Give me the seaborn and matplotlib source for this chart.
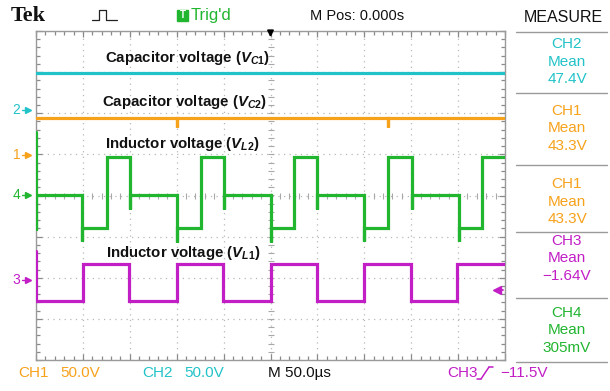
import numpy as np
import pandas as pd
import matplotlib
matplotlib.use("Agg")
import matplotlib.pyplot as plt
import seaborn as sns
from matplotlib.lines import Line2D
from matplotlib.patches import Rectangle
from matplotlib.transforms import blended_transform_factory

# ---------------- data (time in µs, 50 µs/div; level in divisions from centre)
t_start, t_end = -250, 250

cyan_level = 2.99          # CH2 - capacitor voltage Vc1
orange_level = 1.88        # CH1 - capacitor voltage Vc2
orange_glitch_t = [-100, 125]
orange_glitch_peak = [1.66, 1.66]

green_edges = [-201, -174, -150, -100, -74, -50, 0, 25, 50, 100, 125, 151, 201, 226]
green_levels = [0.02, -0.78, 0.93, 0.02, -0.78, 0.93, 0.02, -0.78, 0.93,
                0.02, -0.78, 0.93, 0.02, -0.78, 0.93]
green_peaks = [-1.10, 0.93, -0.33, -1.12, 0.93, -0.33, -1.12, 0.93, -0.33,
               -1.10, 0.93, -0.33, -1.10, 0.93]
green_start_span = [1.55, -0.85]

magenta_edges = [-200, -151, -100, -51, 0, 50, 100, 150, 199]
magenta_levels = [-2.56, -1.66, -2.56, -1.66, -2.56, -1.66, -2.56, -1.66, -2.56, -1.66]
magenta_start_span = [-1.35, -2.56]

channel_markers = ["2", "1", "4", "3"]
channel_marker_levels = [2.08, 0.99, 0.02, -2.06]

measure_channels = ["CH2", "CH1", "CH1", "CH3", "CH4"]
measure_values = ["47.4V", "43.3V", "43.3V", "\u22121.64V", "305mV"]

labels = [r"Capacitor voltage ($V_{C1}$)", r"Capacitor voltage ($V_{C2}$)",
          r"Inductor voltage ($V_{L2}$)", r"Inductor voltage ($V_{L1}$)"]
label_t = [-88, -92, -94, -93]
label_v = [3.35, 2.28, 1.26, -1.41]

# ---------------- colours
C_CYAN = "#22c3c8"
C_ORANGE = "#f7a21b"
C_GREEN = "#22b530"
C_MAG = "#c21ec6"

sns.set_style("white")
plt.rcParams["font.family"] = ["Liberation Sans", "DejaVu Sans"]
plt.rcParams["mathtext.fontset"] = "custom"
plt.rcParams["mathtext.it"] = "Liberation Sans:italic:bold"
plt.rcParams["mathtext.rm"] = "Liberation Sans:bold"


def step_series(edges, levels, peaks, name, start=None):
    t, v = [], []
    if start is not None:
        t += [t_start, t_start]
        v += list(start)
    t.append(t_start)
    v.append(levels[0])
    for i, e in enumerate(edges):
        t += [e, e, e]
        v += [levels[i], peaks[i], levels[i + 1]]
    t.append(t_end)
    v.append(levels[-1])
    return pd.DataFrame({"t": t, "v": v, "ch": name})


df = pd.concat([
    step_series([], [cyan_level], [], "CH2"),
    step_series(orange_glitch_t, [orange_level] * 3, orange_glitch_peak, "CH1"),
    step_series(green_edges, green_levels, green_peaks, "CH4", green_start_span),
    step_series(magenta_edges, magenta_levels, magenta_levels[:-1], "CH3", magenta_start_span),
], ignore_index=True)

W, H = 610, 391
fig = plt.figure(figsize=(W / 100, H / 100), dpi=100)
ax = fig.add_axes([36 / W, 31 / H, 469 / W, 329 / H])

palette = {"CH2": C_CYAN, "CH1": C_ORANGE, "CH4": C_GREEN, "CH3": C_MAG}
sns.lineplot(data=df, x="t", y="v", hue="ch", palette=palette, sort=False,
             estimator=None, legend=False, ax=ax, linewidth=2.3, zorder=3)
for ln in ax.lines:
    ln.set_solid_joinstyle("miter")
# orange has thinner glitches
ax.set_xlim(t_start, t_end)
ax.set_ylim(-4, 4)
ax.set_xticks(np.arange(-250, 251, 50))
ax.set_xticks(np.arange(-250, 251, 10), minor=True)
ax.set_yticks(np.arange(-4, 4.01, 1))
ax.set_yticks(np.arange(-4, 4.01, 0.2), minor=True)
ax.tick_params(which="both", direction="in", top=True, right=True, bottom=True, left=True,
               labelbottom=False, labelleft=False, color="#8a8a8a", width=0.9)
ax.tick_params(which="major", length=4)
ax.tick_params(which="minor", length=3)
ax.set_xlabel("")
ax.set_ylabel("")
ax.grid(True, which="major", color="#b8b8b8", linestyle=(0, (1, 3.5)), linewidth=0.9)
for sp in ax.spines.values():
    sp.set_color("#9a9a9a")
    sp.set_linewidth(1.0)

# centre cross ticks
xt = np.arange(-250, 251, 10)
ax.plot(xt, np.zeros_like(xt), linestyle="none", marker="|", ms=4, color="#a8a8a8", mew=0.8, zorder=1)
yt = np.arange(-4, 4.01, 0.2)
ax.plot(np.zeros_like(yt), yt, linestyle="none", marker="_", ms=4, color="#a8a8a8", mew=0.8, zorder=1)

# trace labels
for s, tx, ty in zip(labels, label_t, label_v):
    ax.text(tx, ty, s, ha="center", va="center", fontsize=10.8, fontweight="bold", color="#111111", zorder=5)

# channel ground markers (left)
bt = blended_transform_factory(ax.transAxes, ax.transData)
mcols = {"2": C_CYAN, "1": C_ORANGE, "4": C_GREEN, "3": C_MAG}
for c, lv in zip(channel_markers, channel_marker_levels):
    ax.text(-0.033, lv, c, transform=bt, ha="right", va="center", fontsize=10, color=mcols[c], clip_on=False)
    ax.plot([-0.016], [lv], transform=bt, marker=">", ms=4.5, color=mcols[c], clip_on=False, linestyle="none")
    ax.plot([-0.03, -0.016], [lv, lv], transform=bt, color=mcols[c], lw=1, clip_on=False)

# trigger level marker (right)
ax.plot([0.984], [-2.30], transform=bt, marker="<", ms=6, color=C_MAG, linestyle="none", zorder=6)
ax.plot([0.984, 0.995], [-2.30, -2.30], transform=bt, color=C_MAG, lw=1.3, zorder=6)

# trigger position arrow (top)
ax.annotate("", xy=(0, 3.78), xytext=(0, 4.02), xycoords="data",
            arrowprops=dict(arrowstyle="-|>", color="black", lw=1.3, mutation_scale=9), annotation_clip=False)

# ---------------- header
def fx(x):
    return x / W


def fy(y):
    return 1 - y / H


fig.text(fx(11), fy(16), "Tek", fontsize=16, fontweight="bold", family=["Liberation Serif", "DejaVu Serif"],
         va="center", ha="left", color="#111111")
fig.add_artist(Line2D([fx(92), fx(99), fx(99), fx(106), fx(106), fx(117)],
                      [fy(20), fy(20), fy(10), fy(10), fy(20), fy(20)], color="#222222", lw=0.9))
fig.add_artist(Rectangle((fx(177), fy(21)), 11 / W, 11 / H, color=C_GREEN, transform=fig.transFigure))
fig.text(fx(182.5), fy(15.5), "T", fontsize=7, color="white", fontweight="bold", ha="center", va="center")
fig.text(fx(191), fy(15.5), "Trig'd", fontsize=12, color=C_GREEN, ha="left", va="center")
fig.text(fx(310), fy(15.5), "M Pos: 0.000s", fontsize=10.5, color="#111111", ha="left", va="center")
fig.text(fx(563), fy(17), "MEASURE", fontsize=11.5, color="#111111", ha="center", va="center")

# ---------------- measurement panel
mcol = {"CH2": C_CYAN, "CH1": C_ORANGE, "CH3": C_MAG, "CH4": C_GREEN}
sep_y = [32, 93, 165, 232, 298, 362]
for y in sep_y:
    fig.add_artist(Line2D([fx(516), fx(607)], [fy(y), fy(y)], color="#9a9a9a", lw=1.0))
block_top = [44, 111, 184, 241, 313]
for ch, val, y0 in zip(measure_channels, measure_values, block_top):
    col = mcol[ch]
    fig.text(fx(567), fy(y0), ch, fontsize=11, color=col, ha="center", va="center")
    fig.text(fx(567), fy(y0 + 17.5), "Mean", fontsize=11, color=col, ha="center", va="center")
    fig.text(fx(567), fy(y0 + 35), val, fontsize=11, color=col, ha="center", va="center")

# ---------------- footer
fig.text(fx(18), fy(373), "CH1", fontsize=11, color=C_ORANGE, ha="left", va="center")
fig.text(fx(60), fy(373), "50.0V", fontsize=11, color=C_ORANGE, ha="left", va="center")
fig.text(fx(142), fy(373), "CH2", fontsize=11, color=C_CYAN, ha="left", va="center")
fig.text(fx(184), fy(373), "50.0V", fontsize=11, color=C_CYAN, ha="left", va="center")
fig.text(fx(268), fy(373), "M 50.0\u00b5s", fontsize=11, color="#111111", ha="left", va="center")
fig.text(fx(447), fy(373), "CH3", fontsize=11, color=C_MAG, ha="left", va="center")
fig.add_artist(Line2D([fx(481), fx(489)], [fy(379), fy(367)], color=C_MAG, lw=1.1))
fig.add_artist(Line2D([fx(477), fx(481)], [fy(379), fy(379)], color=C_MAG, lw=1.1))
fig.add_artist(Line2D([fx(489), fx(493)], [fy(367), fy(367)], color=C_MAG, lw=1.1))
fig.text(fx(500), fy(373), "\u221211.5V", fontsize=11, color=C_MAG, ha="left", va="center")

fig.savefig("out.png", dpi=100)
